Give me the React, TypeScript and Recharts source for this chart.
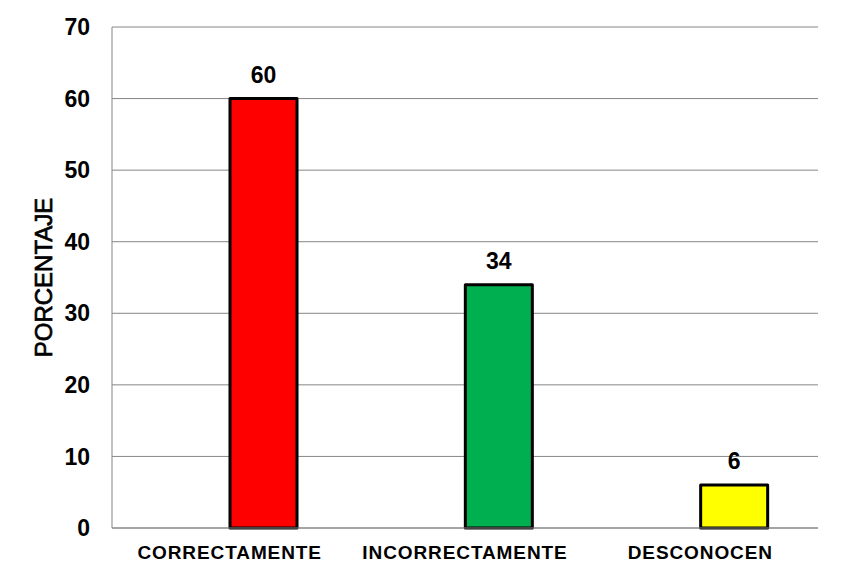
import { BarChart, Bar, XAxis, YAxis, CartesianGrid, Cell, LabelList, Label } from 'recharts';

const categories = ['CORRECTAMENTE', 'INCORRECTAMENTE', 'DESCONOCEN'];
const percentages = [60, 34, 6];
const barColors = ['#FF0000', '#00B050', '#FFFF00'];
const yTicks = [0, 10, 20, 30, 40, 50, 60, 70];

const data = categories.map((name, i) => ({ name, blank: null, value: percentages[i] }));

const FONT = '"Liberation Sans", Arial, sans-serif';

// rotated axis title, a bit heavier than plain regular like the original
const YTitle = ({ viewBox }: any) => {
  const cx = viewBox.x + 43;
  const cy = viewBox.y + viewBox.height / 2;
  return (
    <text
      x={cx}
      y={cy}
      transform={`rotate(-90, ${cx}, ${cy})`}
      textAnchor='middle'
      dominantBaseline='central'
      fontSize={24}
      fontFamily={FONT}
      fill='#000'
      stroke='#000'
      strokeWidth={0.7}
    >
      PORCENTAJE
    </text>
  );
};

const App = () => {
  return (
    <div style={{ position: 'relative', width: 844, height: 581, margin: -8, fontFamily: FONT }}>
      <BarChart
        width={844}
        height={581}
        data={data}
        margin={{ top: 27, right: 26, bottom: 0, left: 0 }}
        barSize={67}
        barGap={0}
      >
        <CartesianGrid vertical={false} stroke='#868686' strokeWidth={1} />
        <XAxis
          dataKey='name'
          height={53}
          tickLine={false}
          tickMargin={12}
          axisLine={{ stroke: '#868686' }}
          tick={{ fontSize: 19, fontWeight: 'bold', fill: '#000', fontFamily: FONT, letterSpacing: 0.9 }}
          interval={0}
        />
        <YAxis
          width={112}
          domain={[0, 70]}
          ticks={yTicks}
          tickLine={false}
          tickMargin={16}
          axisLine={{ stroke: '#868686' }}
          tick={{ fontSize: 23, fontWeight: 'bold', fill: '#000', fontFamily: FONT }}
        >
          <Label content={YTitle} />
        </YAxis>
        <Bar dataKey='blank' isAnimationActive={false} fill='none' />
        <Bar
          dataKey='value'
          isAnimationActive={false}
          stroke='#000'
          strokeWidth={3}
          strokeLinejoin='round'
        >
          {data.map((d, i) => (
            <Cell key={d.name} fill={barColors[i]} />
          ))}
          <LabelList
            dataKey='value'
            position='top'
            offset={16}
            style={{ fontSize: 23, fontWeight: 'bold', fill: '#000', fontFamily: FONT }}
          />
        </Bar>
      </BarChart>
    </div>
  );
};

export default App;
